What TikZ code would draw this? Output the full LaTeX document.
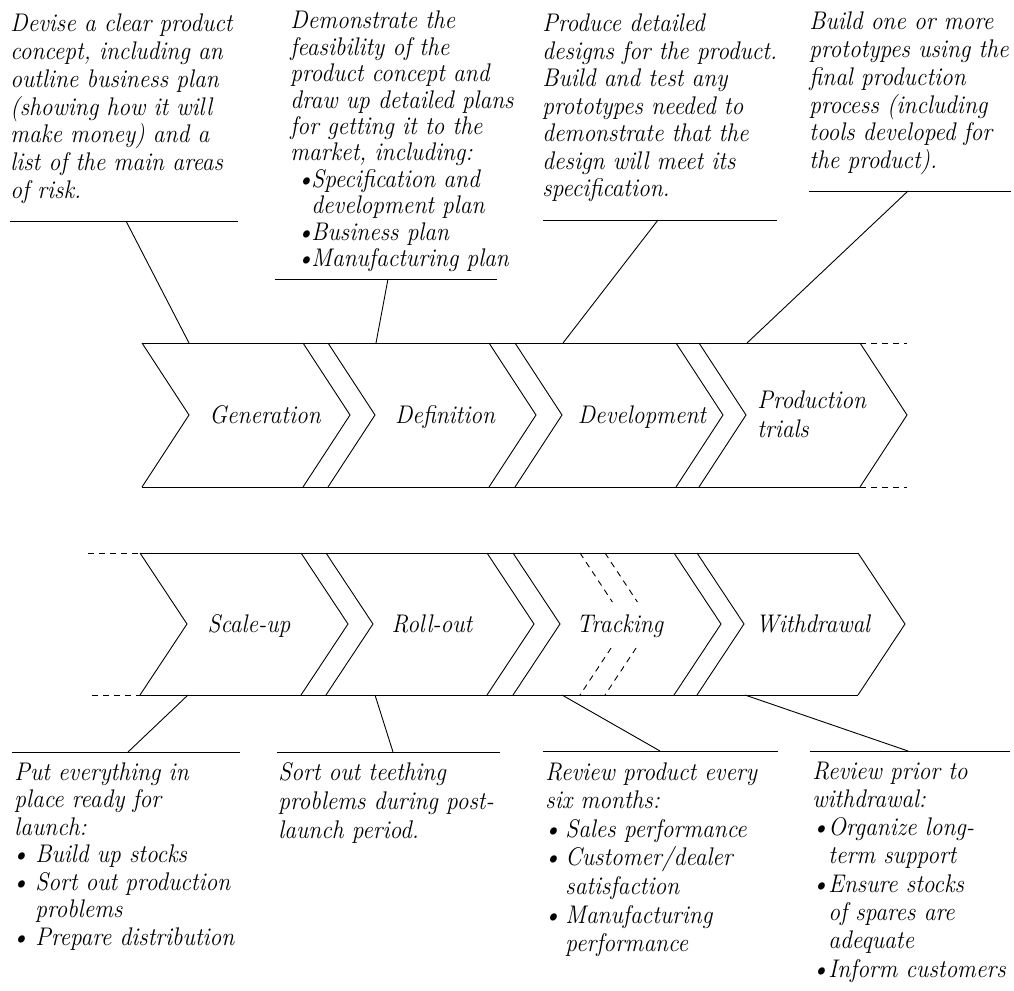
\documentclass[tikz,border=0pt]{standalone}
\usepackage{fontspec}
\setmainfont{Latin Modern Roman}[ItalicFeatures={FakeStretch=0.92}]
\newlength\bi
\newlength\ti
\newcommand\bodyfont{\fontsize{25.5}{27.5}\selectfont\itshape}
\newcommand\blk[2]{\fontsize{25.5}{#1}\selectfont\itshape\begin{tabular}[t]{@{}l@{}}#2\end{tabular}}
\newcommand\bul[1]{\makebox[\ti][l]{\hspace*{\bi}\textbullet}#1}
\newcommand\cnt[1]{\hspace*{\ti}#1}
\begin{document}
\begin{tikzpicture}[x=1pt,y=-1pt,line width=0.9pt,
  txt/.style={anchor=base west,inner sep=0pt},
  lab/.style={anchor=base,inner sep=0pt,font=\bodyfont},
  dsh/.style={dash pattern=on 6pt off 5pt}]
\useasboundingbox (0,0) rectangle (1014,990);
% ---------- top row chevrons
\foreach \L in {142,328,515,699}{
  \draw (\L,343) -- (\L+47,415) -- (\L,487);
  \draw (\L+161,343) -- (\L+208,415) -- (\L+161,487);
}
\draw (142,343) -- (860,343);
\draw (142,487) -- (860,487);
\draw[dsh] (860,343) -- (907,343);
\draw[dsh] (860,487) -- (907,487);
% ---------- bottom row chevrons
\foreach \L in {140,326,513,697}{
  \draw (\L,553) -- (\L+47,624) -- (\L,695);
  \draw (\L+161,553) -- (\L+208,624) -- (\L+161,695);
}
\draw (140,553) -- (858,553);
\draw (140,695) -- (858,695);
\draw[dsh] (88,553) -- (140,553);
\draw[dsh] (92,695) -- (140,695);
% tracking break marks
\foreach \d in {0,25}{
  \draw[dsh] (580+\d,553) -- (612.4+\d,602);
  \draw[dsh] (611.1+\d,648) -- (580+\d,695);
}
% ---------- chevron labels
\node[lab] (gen) at (265,423) {Generation};
\node[lab] (def) at (445,423) {Definition};
\node[lab] (dev) at (642,423) {Development};
\node[txt] (pro) at (757,408) {\blk{29pt}{Production\\trials}};
\node[lab] (sca) at (249,632) {Scale-up};
\node[lab] (rol) at (432,632) {Roll-out};
\node[lab] (tra) at (620,632) {Tracking};
\node[lab] (wit) at (813,632) {Withdrawal};
% ---------- description texts
\node[txt] (t1) at (10,32) {\blk{27.7pt}{Devise a clear product\\concept, including an\\outline business plan\\(showing how it will\\make money) and a\\list of the main areas\\of risk.}};
\node[txt] (t2) at (290,29) {\setlength\bi{6pt}\setlength\ti{21pt}\blk{26.4pt}{Demonstrate the\\feasibility of the\\product concept and\\draw up detailed plans\\for getting it to the\\market, including:\\\bul{Specification and}\\\cnt{development plan}\\\bul{Business plan}\\\bul{Manufacturing plan}}};
\node[txt] (t3) at (542,32) {\blk{27.5pt}{Produce detailed\\designs for the product.\\Build and test any\\prototypes needed to\\demonstrate that the\\design will meet its\\specification.}};
\node[txt] (t4) at (809,30) {\blk{27.7pt}{Build one or more\\prototypes using the\\final production\\process (including\\tools developed for\\the product).}};
\node[txt] (b1) at (14,780) {\setlength\bi{-3pt}\setlength\ti{21pt}\blk{27.5pt}{Put everything in\\place ready for\\launch:\\\bul{Build up stocks}\\\bul{Sort out production}\\\cnt{problems}\\\bul{Prepare distribution}}};
\node[txt] (b2) at (278,780) {\blk{29pt}{Sort out teething\\problems during post-\\launch period.}};
\node[txt] (b3) at (545,780) {\setlength\bi{-2pt}\setlength\ti{20pt}\blk{28.6pt}{Review product every\\six months:\\\bul{Sales performance}\\\bul{Customer/dealer}\\\cnt{satisfaction}\\\bul{Manufacturing}\\\cnt{performance}}};
\node[txt] (b4) at (812,779) {\setlength\bi{-1pt}\setlength\ti{16pt}\blk{28.3pt}{Review prior to\\withdrawal:\\\bul{Organize long-}\\\cnt{term support}\\\bul{Ensure stocks}\\\cnt{of spares are}\\\cnt{adequate}\\\bul{Inform customers}}};
% ---------- underlines and leader lines
\draw (10,221) -- (238,221);
\draw (275,279) -- (497,279);
\draw (543,220) -- (777,220);
\draw (809,191) -- (1011,191);
\draw (12,752) -- (240,752);
\draw (277,752) -- (500,752);
\draw (543,751) -- (778,751);
\draw (810,751) -- (1010,751);
\coordinate (u1) at (126,221); \coordinate (c1) at (189,343);
\coordinate (u2) at (388,279); \coordinate (c2) at (376,343);
\coordinate (u3) at (658,220); \coordinate (c3) at (563,343);
\coordinate (u4) at (908,191); \coordinate (c4) at (747,343);
\coordinate (u5) at (128,752); \coordinate (c5) at (188,695);
\coordinate (u6) at (393,752); \coordinate (c6) at (375,695);
\coordinate (u7) at (660,751); \coordinate (c7) at (562,695);
\coordinate (u8) at (908,751); \coordinate (c8) at (745,695);
\foreach \i in {1,...,8}{\draw (u\i) -- (c\i);}
\end{tikzpicture}
\end{document}
